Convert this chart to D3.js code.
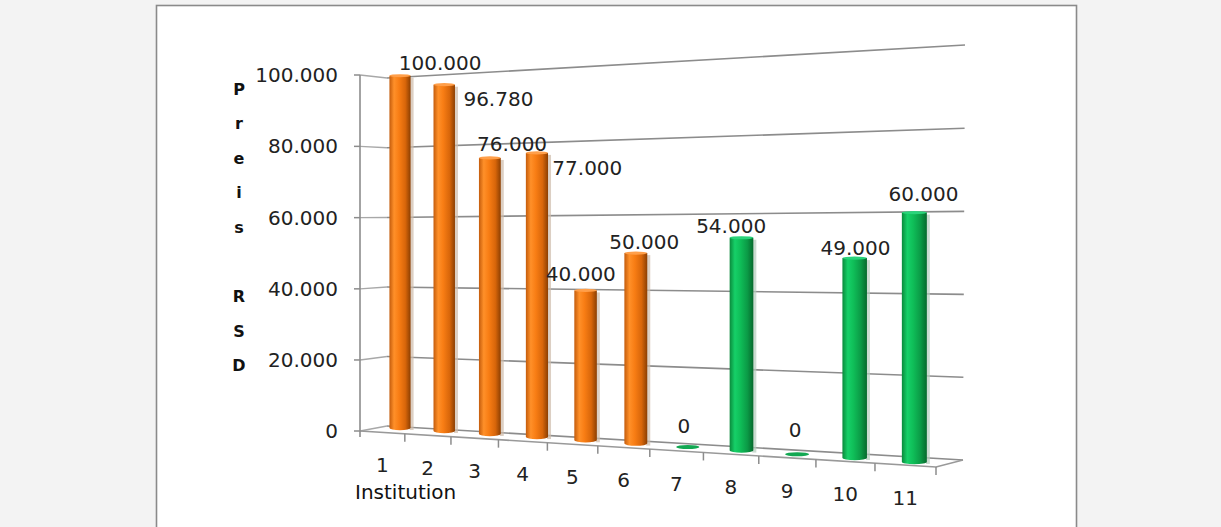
<!DOCTYPE html>
<html><head><meta charset="utf-8">
<script src="https://cdn.jsdelivr.net/npm/d3@7"></script>
<style>
html,body{margin:0;padding:0;background:#f3f3f3;}
svg{display:block;}
</style></head><body>
<svg id="chart" width="1221" height="527"></svg>
<script>
// ---------------- DATA ----------------
const categories = ["1","2","3","4","5","6","7","8","9","10","11"];
const values = [100000, 96780, 76000, 77000, 40000, 50000, 0, 54000, 0, 49000, 60000];
const groups = ["A","A","A","A","A","A","B","B","B","B","B"];
const yTicks = [0, 20000, 40000, 60000, 80000, 100000];
const yTitleLetters = ["P","r","e","i","s"," ","R","S","D"];
const xTitle = "Institution";

// ---------------- LAYOUT / STYLE ----------------
const labelOffsets = [[40,-13],[54,14],[22,-14],[50,15],[-5,-16],[8,-11],[-4,-21],[-11,-12],[-2,-24],[0,-10],[8,-19]];
const fmt = d3.formatLocale({decimal: ",", thousands: ".", grouping: [3], currency: ["", ""]}).format(",.0f");

const svg = d3.select("#chart");

// white panel
svg.append("rect").attr("x", 156.5).attr("y", 5.5).attr("width", 920).attr("height", 540)
  .attr("fill", "#ffffff").attr("stroke", "#8a8a8a").attr("stroke-width", 1.6);

// projective mapping of unit square onto a quad (p00, p10, p11, p01)
function quad(p00, p10, p11, p01) {
  const [x0,y0] = p00, [x1,y1] = p10, [x2,y2] = p11, [x3,y3] = p01;
  const sx = x0 - x1 + x2 - x3, sy = y0 - y1 + y2 - y3;
  const dx1 = x1 - x2, dx2 = x3 - x2, dy1 = y1 - y2, dy2 = y3 - y2;
  const den = dx1 * dy2 - dx2 * dy1;
  const g = (sx * dy2 - dx2 * sy) / den;
  const h = (dx1 * sy - sx * dy1) / den;
  const a = x1 - x0 + g * x1, b = x3 - x0 + h * x3, c = x0;
  const d = y1 - y0 + g * y1, e = y3 - y0 + h * y3, f = y0;
  return (u, v) => {
    const w = g * u + h * v + 1;
    return [(a * u + b * v + c) / w, (d * u + e * v + f) / w];
  };
}

// planes of the 3D box (front edge, bar row, back wall)
const front = quad([360,431],[936,467],[938,45],[360,75]);
const barPl = quad([378.4,426.6],[945,464],[947,44],[378.4,77]);
const back  = quad([387,426],[963,460],[965,45],[387,78]);

// library scales: category -> u, value -> v
const xS = d3.scaleBand().domain(categories).range([0, 1]).padding(0);
const yS = d3.scaleLinear().domain([0, 100000]).range([0, 1]);
const uC = c => xS(c) + xS.bandwidth() / 2;

const gridColor = "#8c8c8c";
const line = d3.line();

// back wall gridlines + side wall segments
yTicks.forEach(t => {
  const v = yS(t);
  svg.append("path").attr("d", line([back(0, v), back(1, v)]))
    .attr("fill", "none").attr("stroke", gridColor).attr("stroke-width", 1.6);
  svg.append("path").attr("d", line([front(0, v), back(0, v)]))
    .attr("fill", "none").attr("stroke", "#a8a8a8").attr("stroke-width", 1.4);
  // axis tick
  const p = front(0, v);
  svg.append("line").attr("x1", p[0] - 6).attr("x2", p[0]).attr("y1", p[1]).attr("y2", p[1])
    .attr("stroke", gridColor).attr("stroke-width", 1.5);
  svg.append("text").attr("x", 338).attr("y", p[1]).attr("text-anchor", "end")
    .attr("dominant-baseline", "central")
    .attr("font-family", "DejaVu Sans").attr("font-size", 20).attr("fill", "#222")
    .text(fmt(t));
});

// floor outline
svg.append("path").attr("d", line([front(0,0), front(1,0), back(1,0)]))
  .attr("fill", "none").attr("stroke", "#999").attr("stroke-width", 1.5);

// value axis line
svg.append("path").attr("d", line([[front(0,1)[0], front(0,1)[1]], [front(0,0)[0], front(0,0)[1] + 6]]))
  .attr("fill", "none").attr("stroke", gridColor).attr("stroke-width", 1.6);

// category ticks and labels
d3.range(categories.length + 1).forEach(k => {
  const u = k / categories.length;
  const p = front(u, 0);
  if (k > 0) svg.append("line").attr("x1", p[0]).attr("x2", p[0]).attr("y1", p[1]).attr("y2", p[1] + 8)
    .attr("stroke", gridColor).attr("stroke-width", 1.5);
});
categories.forEach(c => {
  const p = front(uC(c), 0);
  svg.append("text").attr("x", p[0]).attr("y", p[1] + 33).attr("text-anchor", "middle")
    .attr("dominant-baseline", "central")
    .attr("font-family", "DejaVu Sans").attr("font-size", 20).attr("fill", "#222").text(c);
});

// gradients
const defs = svg.append("defs");
const grads = {
  A: [["0%","#c45c0c"],["22%","#ff9029"],["45%","#f87d14"],["75%","#d8660a"],["100%","#8c3f02"]],
  B: [["0%","#0a8a3c"],["22%","#16d068"],["45%","#0fbe58"],["75%","#0b9a46"],["100%","#066a2d"]]
};
Object.entries(grads).forEach(([k, stops]) => {
  const g = defs.append("linearGradient").attr("id", "g" + k).attr("x1", 0).attr("x2", 1).attr("y1", 0).attr("y2", 0);
  stops.forEach(s => g.append("stop").attr("offset", s[0]).attr("stop-color", s[1]));
});
const capColor = {A: "#ff9f4a", B: "#2ad47a"};
const shadowColor = {A: "#cdbba9", B: "#b5ccbd"};
const flatColor = {A: "#f07a14", B: "#12a852"};

// bars (cylinders)
categories.forEach((c, i) => {
  const u = uC(c);
  const bot = barPl(u, 0);
  const top = barPl(u, yS(values[i]));
  const full = barPl(u, 1);
  const r = 0.03 * (bot[1] - full[1]);
  const cx = bot[0], ry = 2.2;
  const gk = groups[i];
  if (values[i] === 0) {
    svg.append("ellipse").attr("cx", cx).attr("cy", bot[1]).attr("rx", r).attr("ry", 2)
      .attr("fill", flatColor[gk]);
  } else {
    svg.append("rect").attr("x", cx + r - 1).attr("y", top[1] + 2).attr("width", 4)
      .attr("height", bot[1] - top[1]).attr("fill", shadowColor[gk]).attr("opacity", 0.7);
    svg.append("path")
      .attr("d", `M${cx - r},${top[1]} L${cx - r},${bot[1]} A${r},${ry} 0 0 0 ${cx + r},${bot[1]} L${cx + r},${top[1]} Z`)
      .attr("fill", `url(#g${gk})`);
    svg.append("ellipse").attr("cx", cx).attr("cy", top[1]).attr("rx", r).attr("ry", 1.6)
      .attr("fill", capColor[gk]);
  }
  const o = labelOffsets[i];
  svg.append("text").attr("x", top[0] + o[0]).attr("y", top[1] + o[1]).attr("text-anchor", "middle")
    .attr("dominant-baseline", "central")
    .attr("font-family", "DejaVu Sans").attr("font-size", 20).attr("fill", "#222")
    .text(fmt(values[i]));
});

// axis titles
const yt = svg.append("text").attr("font-family", "DejaVu Sans").attr("font-weight", "bold")
  .attr("font-size", 16).attr("fill", "#111").attr("text-anchor", "middle");
yTitleLetters.forEach((ch, k) => {
  yt.append("tspan").attr("x", 239).attr("y", 89 + 34.6 * k).attr("dominant-baseline", "central")
    .text(ch === " " ? "\u00a0" : ch);
});
svg.append("text").attr("x", 355).attr("y", 492).attr("dominant-baseline", "central")
  .attr("font-family", "DejaVu Sans").attr("font-size", 20).attr("fill", "#111").text(xTitle);
</script>
</body></html>
